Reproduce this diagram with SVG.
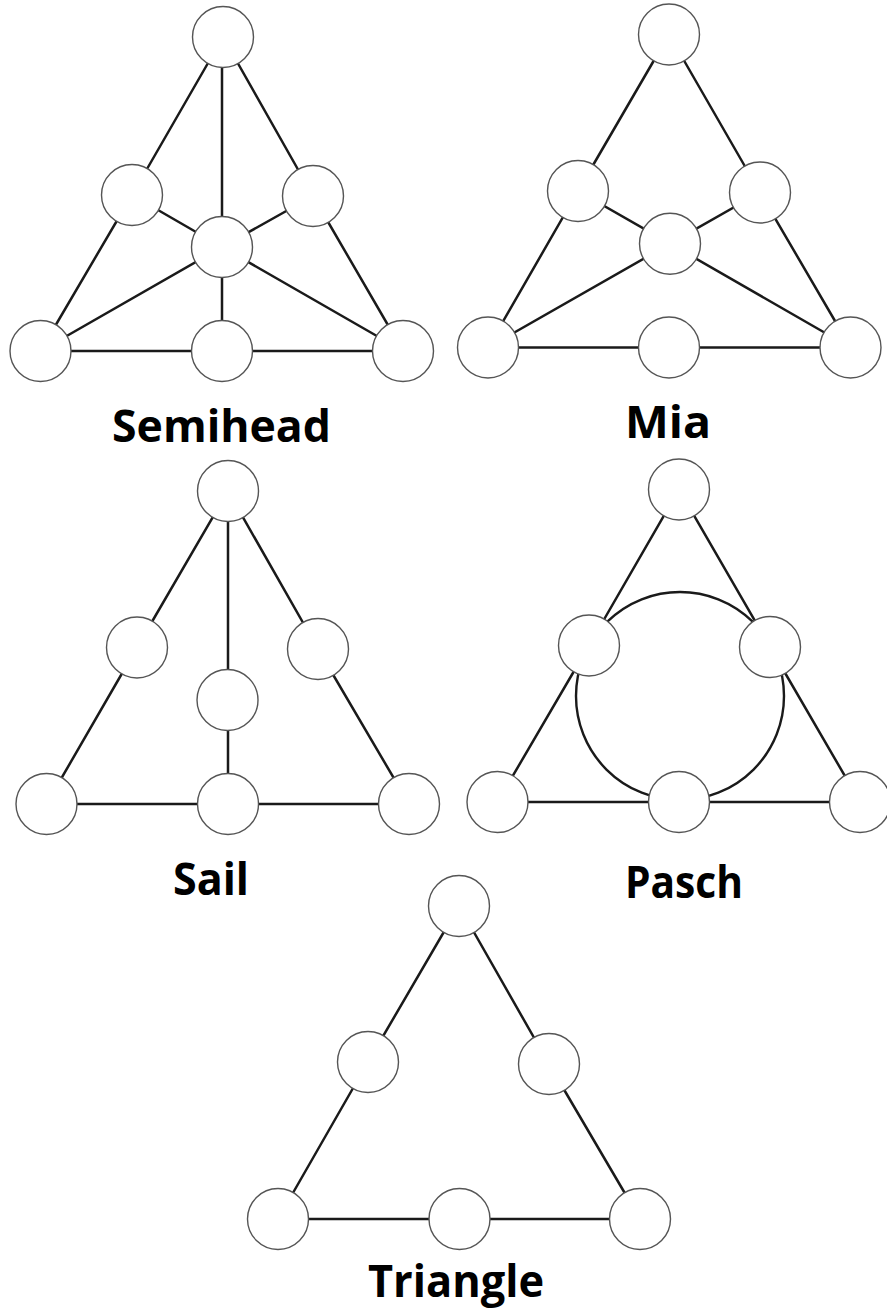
<svg xmlns="http://www.w3.org/2000/svg" width="887" height="1311" viewBox="0 0 887 1311">
<style>
.e{stroke:#1a1a1a;stroke-width:2.5;fill:none;stroke-linecap:round}
.n{fill:#fff;stroke:#555;stroke-width:1.4}
.big{fill:none;stroke:#1a1a1a;stroke-width:2.4}
.lbl{font-family:"Open Sans","Noto Sans","DejaVu Sans",sans-serif;font-weight:bold;font-size:44px;fill:#000}
</style>
<rect width="887" height="1311" fill="#fff"/>
<g id="connectors">
<!-- Semihead -->
<line class="e" x1="223" y1="37" x2="132" y2="195"/>
<line class="e" x1="132" y1="195" x2="40.5" y2="351"/>
<line class="e" x1="223" y1="37" x2="313" y2="196"/>
<line class="e" x1="313" y1="196" x2="403" y2="351"/>
<line class="e" x1="222" y1="37" x2="222" y2="351"/>
<line class="e" x1="132" y1="195" x2="222" y2="247"/>
<line class="e" x1="313" y1="196" x2="222" y2="247"/>
<line class="e" x1="222" y1="247" x2="40.5" y2="351"/>
<line class="e" x1="222" y1="247" x2="403" y2="351"/>
<line class="e" x1="40.5" y1="351" x2="403" y2="351"/>
<!-- Mia -->
<line class="e" x1="669" y1="34.5" x2="578" y2="191"/>
<line class="e" x1="578" y1="191" x2="488" y2="347.5"/>
<line class="e" x1="669" y1="34.5" x2="760" y2="192.5"/>
<line class="e" x1="760" y1="192.5" x2="850.5" y2="347.5"/>
<line class="e" x1="578" y1="191" x2="670" y2="243.7"/>
<line class="e" x1="760" y1="192.5" x2="670" y2="243.7"/>
<line class="e" x1="670" y1="243.7" x2="488" y2="347.5"/>
<line class="e" x1="670" y1="243.7" x2="850.5" y2="347.5"/>
<line class="e" x1="488" y1="347.5" x2="850.5" y2="347.5"/>
<!-- Sail -->
<line class="e" x1="228" y1="491" x2="137" y2="647.5"/>
<line class="e" x1="137" y1="647.5" x2="46.5" y2="804"/>
<line class="e" x1="228" y1="491" x2="318" y2="649"/>
<line class="e" x1="318" y1="649" x2="409" y2="804"/>
<line class="e" x1="228" y1="491" x2="228" y2="804"/>
<line class="e" x1="46.5" y1="804" x2="409" y2="804"/>
<!-- Pasch -->
<line class="e" x1="679" y1="489.5" x2="589" y2="645.5"/>
<line class="e" x1="589" y1="645.5" x2="497.5" y2="802"/>
<line class="e" x1="679" y1="489.5" x2="770" y2="647"/>
<line class="e" x1="770" y1="647" x2="860" y2="802"/>
<line class="e" x1="497.5" y1="802" x2="860" y2="802"/>
<circle class="big" cx="680" cy="696" r="104"/>
<!-- Triangle -->
<line class="e" x1="459" y1="906" x2="368" y2="1062"/>
<line class="e" x1="368" y1="1062" x2="278" y2="1219"/>
<line class="e" x1="459" y1="906" x2="549" y2="1064"/>
<line class="e" x1="549" y1="1064" x2="640" y2="1219"/>
<line class="e" x1="278" y1="1219" x2="640" y2="1219"/>
</g>
<g id="semihead">
<g id="sh-top"><circle class="n" cx="223" cy="37" r="30.5"/></g>
<g id="sh-left"><circle class="n" cx="132" cy="195" r="30.5"/></g>
<g id="sh-right"><circle class="n" cx="313" cy="196" r="30.5"/></g>
<g id="sh-center"><circle class="n" cx="222" cy="247" r="30.5"/></g>
<g id="sh-bl"><circle class="n" cx="40.5" cy="351" r="30.5"/></g>
<g id="sh-bm"><circle class="n" cx="222" cy="351" r="30.5"/></g>
<g id="sh-br"><circle class="n" cx="403" cy="351" r="30.5"/></g>
<text class="lbl" x="112" y="442" textLength="219" lengthAdjust="spacingAndGlyphs">Semihead</text>
</g>
<g id="mia">
<g id="mi-top"><circle class="n" cx="669" cy="34.5" r="30.5"/></g>
<g id="mi-left"><circle class="n" cx="578" cy="191" r="30.5"/></g>
<g id="mi-right"><circle class="n" cx="760" cy="192.5" r="30.5"/></g>
<g id="mi-center"><circle class="n" cx="670" cy="243.7" r="30.5"/></g>
<g id="mi-bl"><circle class="n" cx="488" cy="347.5" r="30.5"/></g>
<g id="mi-bm"><circle class="n" cx="669" cy="347.5" r="30.5"/></g>
<g id="mi-br"><circle class="n" cx="850.5" cy="347.5" r="30.5"/></g>
<text class="lbl" x="625" y="438" textLength="86" lengthAdjust="spacingAndGlyphs">Mia</text>
</g>
<g id="sail">
<g id="sa-top"><circle class="n" cx="228" cy="491" r="30.5"/></g>
<g id="sa-left"><circle class="n" cx="137" cy="647.5" r="30.5"/></g>
<g id="sa-right"><circle class="n" cx="318" cy="649" r="30.5"/></g>
<g id="sa-center"><circle class="n" cx="227.5" cy="700" r="30.5"/></g>
<g id="sa-bl"><circle class="n" cx="46.5" cy="804" r="30.5"/></g>
<g id="sa-bm"><circle class="n" cx="228" cy="804" r="30.5"/></g>
<g id="sa-br"><circle class="n" cx="409" cy="804" r="30.5"/></g>
<text class="lbl" x="173" y="895" textLength="76" lengthAdjust="spacingAndGlyphs">Sail</text>
</g>
<g id="pasch">
<g id="pa-top"><circle class="n" cx="679" cy="489.5" r="30.5"/></g>
<g id="pa-left"><circle class="n" cx="589" cy="645.5" r="30.5"/></g>
<g id="pa-right"><circle class="n" cx="770" cy="647" r="30.5"/></g>
<g id="pa-bl"><circle class="n" cx="497.5" cy="802" r="30.5"/></g>
<g id="pa-bm"><circle class="n" cx="679" cy="802" r="30.5"/></g>
<g id="pa-br"><circle class="n" cx="860" cy="802" r="30.5"/></g>
<text class="lbl" x="625" y="898" textLength="118" lengthAdjust="spacingAndGlyphs">Pasch</text>
</g>
<g id="triangle">
<g id="tr-top"><circle class="n" cx="459" cy="906" r="30.5"/></g>
<g id="tr-left"><circle class="n" cx="368" cy="1062" r="30.5"/></g>
<g id="tr-right"><circle class="n" cx="549" cy="1064" r="30.5"/></g>
<g id="tr-bl"><circle class="n" cx="278" cy="1219" r="30.5"/></g>
<g id="tr-bm"><circle class="n" cx="459.5" cy="1219" r="30.5"/></g>
<g id="tr-br"><circle class="n" cx="640" cy="1219" r="30.5"/></g>
<text class="lbl" x="368" y="1297" textLength="176" lengthAdjust="spacingAndGlyphs">Triangle</text>
</g>
</svg>
